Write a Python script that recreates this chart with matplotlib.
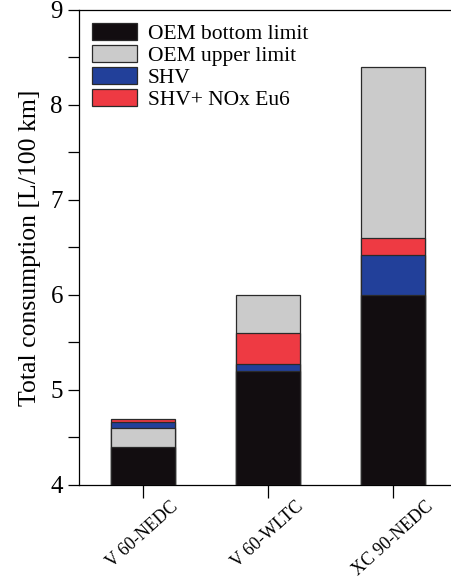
import matplotlib.pyplot as plt
import numpy as np

plt.rcParams['font.family'] = ['Liberation Serif', 'DejaVu Serif']

# categorias e valores (L/100 km)
cases = ['V 60-NEDC', 'V 60-WLTC', 'XC 90-NEDC']
oem_bottom = [4.40, 5.20, 6.00]
oem_upper = [4.60, 6.00, 8.40]
shv = [4.66, 5.27, 6.42]
shv_nox = [4.69, 5.60, 6.60]

series = [
    ('OEM bottom limit', oem_bottom, '#120d10'),
    ('OEM upper limit', oem_upper, '#cbcbcb'),
    ('SHV', shv, '#22409a'),
    ('SHV+ NOx Eu6', shv_nox, '#ee3a43'),
]

fig = plt.figure(figsize=(4.51, 5.78), dpi=100)
ax = fig.add_axes([0.175, 0.161, 0.835, 0.822])

x = np.arange(len(cases))
width = 0.51

# barras sobrepostas: a mais alta fica atras
handles = {}
for label, vals, color in series:
    for i, v in enumerate(vals):
        b = ax.bar(x[i], v - 4, bottom=4, width=width, color=color,
                   edgecolor='#2a2a2a', linewidth=0.9, zorder=10 - v)
        handles[label] = b

ax.set_xlim(-0.51, 2.5)
ax.set_ylim(4, 9)
ax.set_yticks(np.arange(4, 9.1, 1))
ax.set_yticks(np.arange(4.5, 9, 1), minor=True)
ax.set_xticks(x)
ax.set_xticklabels(cases, rotation=42, ha='center', fontsize=13)
ax.tick_params(axis='y', labelsize=18, length=8, width=0.9, direction='out')
ax.tick_params(axis='y', which='minor', length=8, width=0.9)
ax.tick_params(axis='x', length=9, width=0.9, direction='out', pad=0.5)
ax.set_ylabel('Total consumption [L/100 km]', fontsize=18.5, labelpad=7)

ax.spines['right'].set_visible(False)
for s in ['left', 'bottom', 'top']:
    ax.spines[s].set_linewidth(0.9)

ax.legend([handles[s[0]] for s in series], [s[0] for s in series],
          loc='upper left', frameon=False, fontsize=15.5, handlelength=2.1,
          handleheight=0.85, labelspacing=0.05, handletextpad=0.5,
          borderaxespad=0.2, bbox_to_anchor=(0.0, 1.0))

fig.savefig('out.png', dpi=100)
